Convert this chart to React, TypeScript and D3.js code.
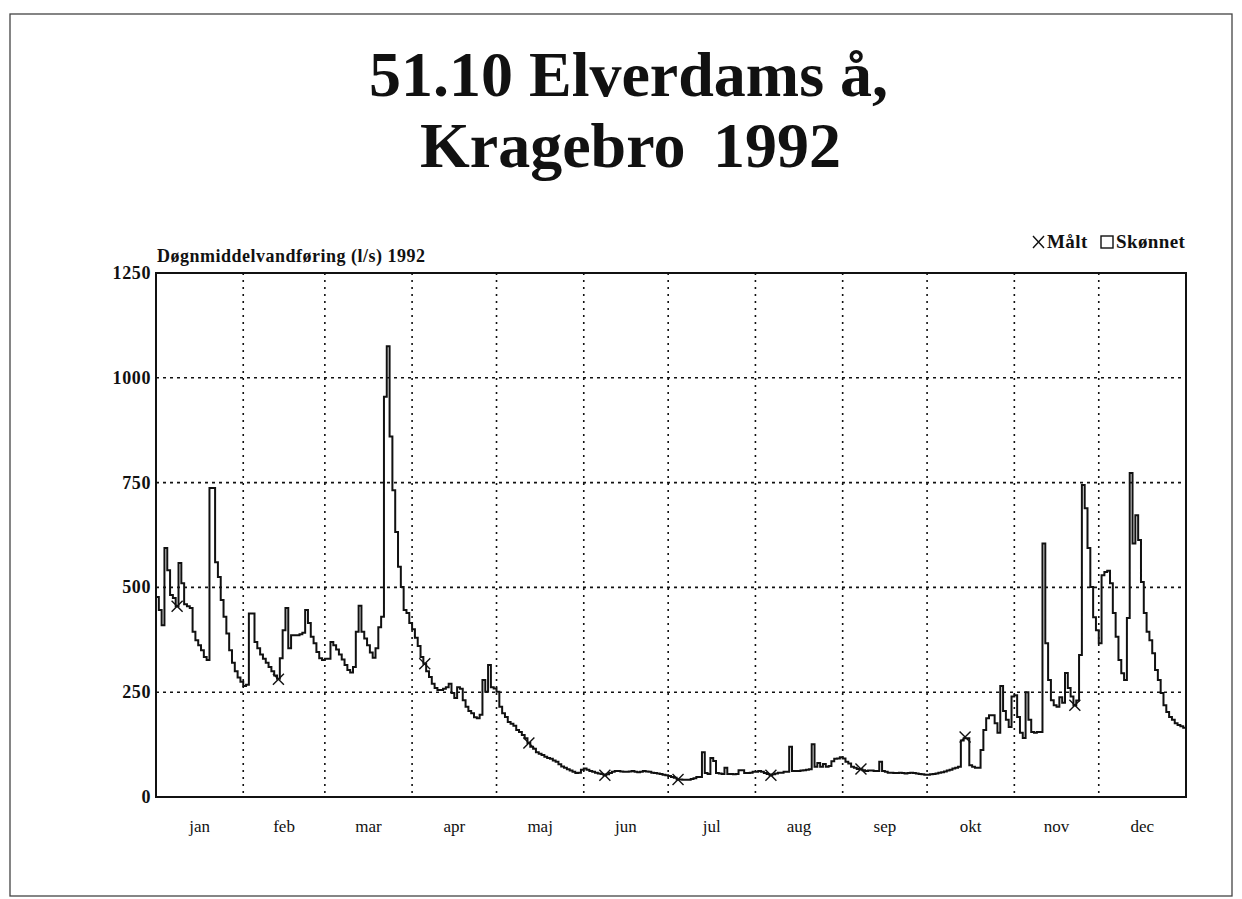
import React from 'react';
import * as d3 from 'd3';

const monthNames = ['jan', 'feb', 'mar', 'apr', 'maj', 'jun', 'jul', 'aug', 'sep', 'okt', 'nov', 'dec'];
const monthLengths = [31, 29, 31, 30, 31, 30, 31, 31, 30, 31, 30, 31];
const yTicks = [0, 250, 500, 750, 1000, 1250];

// Døgnmiddelvandføring (l/s), daily values per month, 1992
const janFlow = [477, 446, 410, 594, 541, 482, 475, 455, 558, 510, 460, 455, 451, 394, 374, 362, 350, 334, 327, 737, 737, 560, 525, 470, 430, 390, 350, 320, 300, 285, 275];
const febFlow = [265, 268, 438, 438, 370, 355, 340, 330, 320, 310, 300, 290, 282, 331, 398, 451, 355, 386, 386, 386, 388, 392, 446, 415, 382, 367, 346, 331, 327];
const marFlow = [330, 330, 370, 362, 352, 340, 328, 315, 303, 297, 310, 394, 456, 394, 378, 362, 345, 332, 355, 405, 430, 955, 1075, 860, 732, 632, 549, 501, 446, 439, 415];
const aprFlow = [400, 380, 360, 334, 318, 300, 286, 270, 260, 255, 255, 258, 262, 270, 248, 236, 262, 258, 231, 215, 205, 200, 190, 188, 196, 279, 251, 315, 262, 259];
const majFlow = [251, 215, 200, 191, 179, 175, 170, 160, 155, 148, 140, 129, 120, 115, 107, 103, 100, 96, 93, 91, 87, 84, 78, 73, 70, 66, 63, 60, 57, 58, 65];
const junFlow = [68, 65, 62, 60, 58, 56, 55, 52, 54, 57, 60, 62, 62, 61, 60, 60, 61, 62, 60, 59, 60, 62, 61, 60, 58, 57, 56, 55, 53, 52];
const julFlow = [50, 48, 46, 42, 42, 41, 41, 41, 43, 45, 48, 48, 107, 57, 55, 93, 86, 57, 56, 55, 70, 55, 55, 54, 55, 64, 64, 57, 57, 58, 60];
const augFlow = [60, 62, 60, 57, 55, 52, 54, 56, 58, 58, 60, 60, 120, 62, 62, 62, 63, 64, 65, 66, 126, 72, 81, 72, 79, 72, 74, 85, 91, 92, 95];
const sepFlow = [92, 84, 80, 72, 70, 67, 66, 64, 62, 63, 63, 62, 62, 84, 62, 60, 58, 58, 57, 57, 58, 57, 56, 57, 58, 57, 56, 55, 54, 53];
const oktFlow = [53, 54, 55, 56, 58, 59, 61, 63, 65, 68, 70, 72, 135, 140, 140, 76, 72, 70, 70, 112, 160, 188, 195, 195, 176, 153, 265, 205, 184, 167, 240];
const novFlow = [243, 191, 153, 141, 250, 184, 155, 153, 155, 155, 605, 367, 279, 231, 219, 215, 238, 225, 296, 260, 240, 219, 230, 339, 744, 689, 594, 501, 429, 398];
const decFlow = [367, 529, 537, 540, 510, 439, 382, 327, 295, 279, 427, 773, 605, 672, 613, 513, 439, 394, 374, 343, 303, 279, 248, 219, 203, 191, 184, 176, 172, 169, 165];

// Målt (measured) points: day of year (0-based) and value
const maaltDays = [7, 43, 95, 132, 159, 185, 218, 250, 287, 326];
const maaltValues = [455, 281, 318, 129, 52, 42, 52, 67, 143, 219];

export default function App() {
  const W = 1242;
  const H = 899;
  const left = 156;
  const right = 1186;
  const top = 273;
  const bottom = 797;

  const flow = [
    ...janFlow, ...febFlow, ...marFlow, ...aprFlow, ...majFlow, ...junFlow,
    ...julFlow, ...augFlow, ...sepFlow, ...oktFlow, ...novFlow, ...decFlow,
  ];
  const nDays = flow.length;

  const x = d3.scaleLinear().domain([0, nDays]).range([left, right]);
  const y = d3.scaleLinear().domain([0, 1250]).range([bottom, top]);

  const pts: [number, number][] = flow.map((v, i) => [i, v]);
  pts.push([nDays, flow[nDays - 1]]);
  const linePath = d3
    .line<[number, number]>()
    .x((d) => x(d[0]))
    .y((d) => y(d[1]))
    .curve(d3.curveStepAfter)(pts) as string;

  const starts: number[] = [0];
  monthLengths.forEach((m, i) => starts.push(starts[i] + m));

  const serif = '"Liberation Serif", "DejaVu Serif", serif';
  const ink = '#111';

  return (
    <svg
      width={W}
      height={H}
      viewBox={`0 0 ${W} ${H}`}
      style={{ position: 'absolute', left: 0, top: 0, background: '#fff' }}
      fontFamily={serif}
    >
      <rect x={0} y={0} width={W} height={H} fill="#fff" />
      {/* page border */}
      <rect x={10} y={14} width={1222} height={882} fill="none" stroke="#444" strokeWidth={1.3} />

      {/* title */}
      <text x={628.5} y={96} textAnchor="middle" fontSize={64} fontWeight="bold" fill={ink}>
        51.10 Elverdams å,
      </text>
      <text x={420} y={167} textAnchor="start" fontSize={64} fontWeight="bold" fill={ink}>
        Kragebro
      </text>
      <text x={841} y={167} textAnchor="end" fontSize={64} fontWeight="bold" fill={ink}>
        1992
      </text>

      {/* axis title */}
      <text x={157} y={262} fontSize={18} fontWeight="bold" letterSpacing={0.5} fill={ink}>
        Døgnmiddelvandføring (l/s) 1992
      </text>

      {/* legend */}
      <g>
        <path d="M1033,236 L1044,248 M1044,236 L1033,248" stroke={ink} strokeWidth={1.4} fill="none" />
        <text x={1047} y={248} fontSize={19} fontWeight="bold" letterSpacing={0.4} fill={ink}>Målt</text>
        <rect x={1101} y={236} width={12} height={12} fill="none" stroke={ink} strokeWidth={1.4} />
        <text x={1116} y={248} fontSize={19} fontWeight="bold" letterSpacing={0.4} fill={ink}>Skønnet</text>
      </g>

      {/* horizontal grid */}
      {yTicks.slice(1, -1).map((t) => (
        <line key={'h' + t} x1={left} x2={right} y1={y(t)} y2={y(t)} stroke={ink} strokeWidth={1.6} strokeDasharray="3 4" />
      ))}
      {/* vertical grid at month boundaries */}
      {starts.slice(1, -1).map((s) => (
        <line key={'v' + s} x1={x(s)} x2={x(s)} y1={top} y2={bottom} stroke={ink} strokeWidth={1.6} strokeDasharray="2 5" />
      ))}

      {/* frame */}
      <rect x={left} y={top} width={right - left} height={bottom - top} fill="none" stroke={ink} strokeWidth={2} />

      {/* y tick labels */}
      {yTicks.map((t) => (
        <text key={'yl' + t} x={151} y={y(t) + 6} textAnchor="end" fontSize={18} fontWeight="bold" letterSpacing={0.6} fill={ink}>
          {t}
        </text>
      ))}

      {/* month labels */}
      {monthNames.map((m, i) => (
        <text key={m} x={x((starts[i] + starts[i + 1]) / 2)} y={832} textAnchor="middle" fontSize={17} fill={ink}>
          {m}
        </text>
      ))}

      {/* flow line */}
      <path d={linePath} fill="none" stroke={ink} strokeWidth={2} strokeLinejoin="miter" />

      {/* Målt markers */}
      {maaltDays.map((d, i) => {
        const cx = x(d + 0.5);
        const cy = y(maaltValues[i]);
        const r = 5.5;
        return (
          <path
            key={'m' + i}
            d={`M${cx - r},${cy - r} L${cx + r},${cy + r} M${cx + r},${cy - r} L${cx - r},${cy + r}`}
            stroke={ink}
            strokeWidth={1.4}
            fill="none"
          />
        );
      })}
    </svg>
  );
}
